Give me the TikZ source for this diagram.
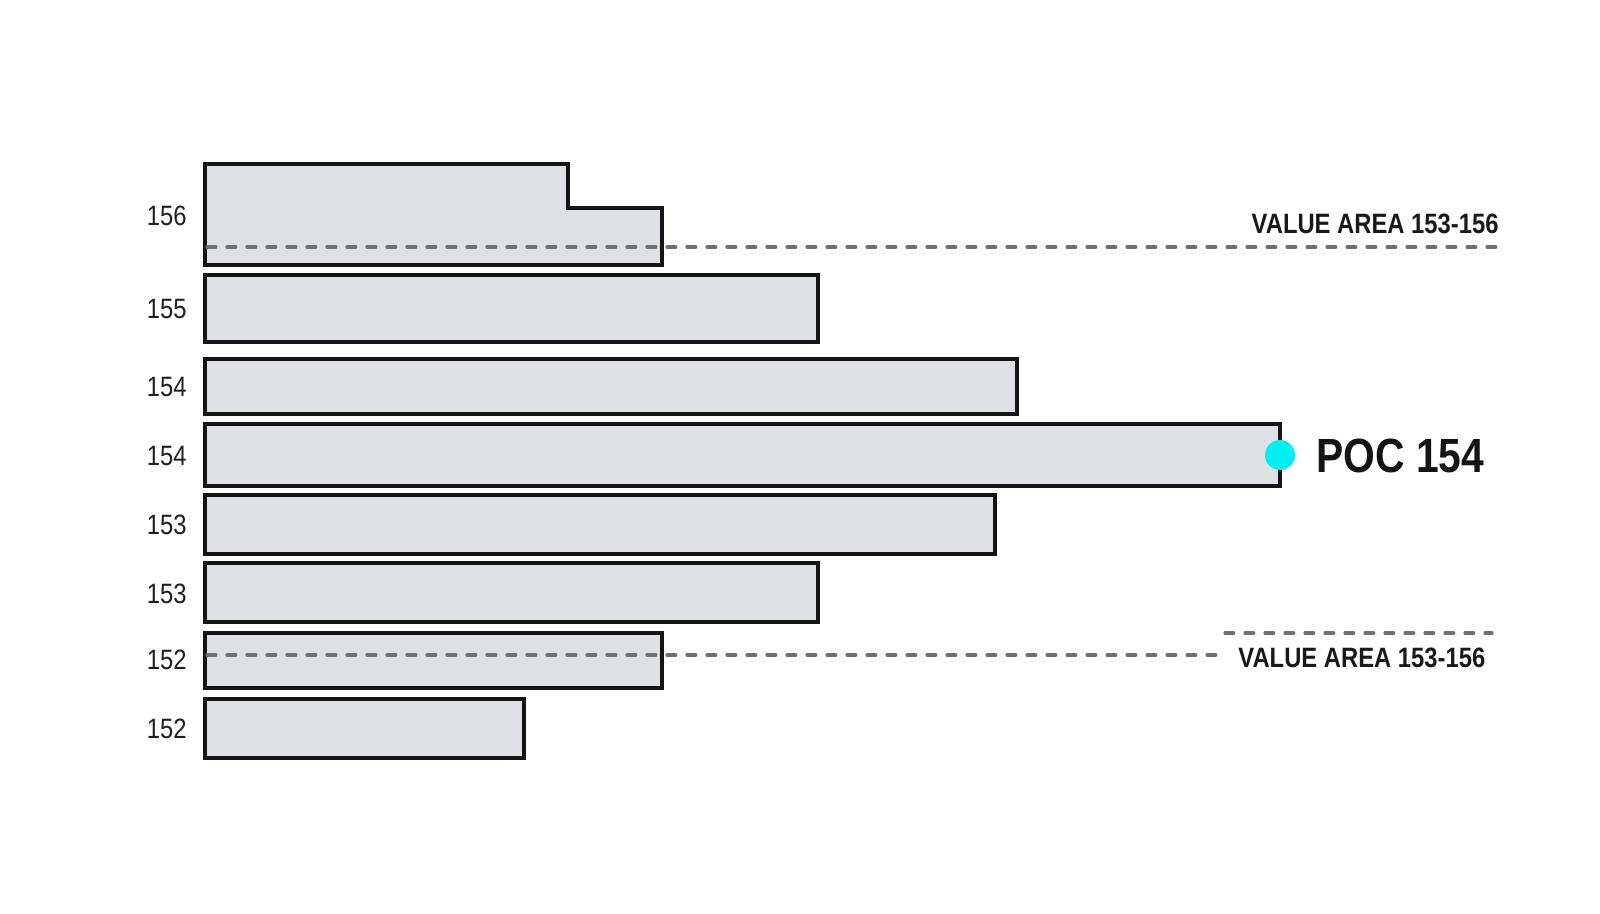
\documentclass[tikz,border=0pt]{standalone}
\usepackage{fontspec}
\newfontfamily\cond[FakeStretch=0.85]{Liberation Sans}
\begin{document}
\begin{tikzpicture}[x=0.5pt,y=-0.5pt,
  bar/.style={draw=black!92,fill=barfill,line width=1.7pt,line join=miter},
  valine/.style={draw=dashgray,line width=1.6pt,dash pattern=on 4.4pt off 5.6pt,line cap=round},
  numlbl/.style={anchor=east,inner sep=0pt,font=\cond\fontsize{14pt}{14pt}\selectfont,text=black!88},
  valbl/.style={inner sep=0pt,font=\cond\bfseries\fontsize{14pt}{14pt}\selectfont,text=black!90},
  poclbl/.style={anchor=west,inner sep=0pt,font=\cond\bfseries\fontsize{24pt}{24pt}\selectfont,text=black!92}]
\definecolor{barfill}{HTML}{DFE0E3}
\definecolor{dashgray}{HTML}{6C6F76}
\definecolor{poccyan}{HTML}{00F0F2}
\fill[white] (0,0) rectangle (1600,914);
\useasboundingbox (0,0) rectangle (1600,914);
% bars
\draw[bar] (205,164) -- (568,164) -- (568,208) -- (662,208) -- (662,265) -- (205,265) -- cycle;
\draw[bar] (205,275) rectangle (818,342);
\draw[bar] (205,359) rectangle (1017,414);
\draw[bar] (205,424) rectangle (1280,486);
\draw[bar] (205,495) rectangle (995,554);
\draw[bar] (205,563) rectangle (818,622);
\draw[bar] (205,633) rectangle (662,688);
\draw[bar] (205,699) rectangle (524,758);
% price labels
\node[numlbl] (l156) at (187,216) {156};
\node[numlbl] (l155) at (187,309) {155};
\node[numlbl] (l154a) at (187,387) {154};
\node[numlbl] (l154b) at (187,456) {154};
\node[numlbl] (l153a) at (187,525) {153};
\node[numlbl] (l153b) at (187,594) {153};
\node[numlbl] (l152a) at (187,660) {152};
\node[numlbl] (l152b) at (187,729) {152};
% value area lines
\coordinate (vah1) at (207,247);
\coordinate (vah2) at (1502,247);
\draw[valine] (vah1) -- (vah2);
\coordinate (val1) at (207,655);
\coordinate (val2) at (1220,655);
\draw[valine] (val1) -- (val2);
\coordinate (val3) at (1225,633);
\coordinate (val4) at (1492,633);
\draw[valine] (val3) -- (val4);
\node[valbl,anchor=east] (vahtxt) at (1499,224) {VALUE AREA 153-156};
\node[valbl,anchor=west] (valtxt) at (1238,658) {VALUE AREA 153-156};
% POC
\fill[poccyan] (1280,455) circle (15);
\node[poclbl] (poc) at (1316,456) {POC 154};
\end{tikzpicture}
\end{document}
